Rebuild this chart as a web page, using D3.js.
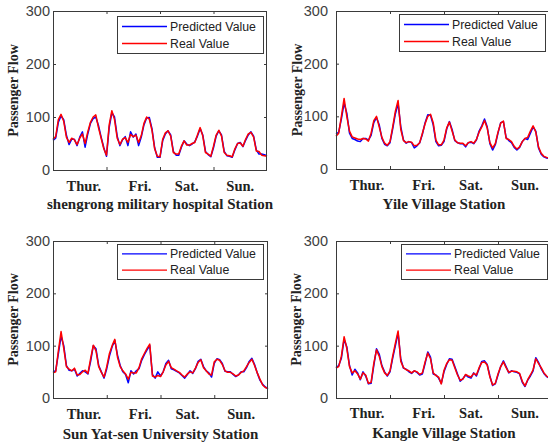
<!DOCTYPE html>
<html>
<head>
<meta charset="utf-8">
<script src="https://cdn.jsdelivr.net/npm/d3@7"></script>
<style>
  html, body { margin: 0; padding: 0; background: #fff; }
  svg { display: block; }
</style>
</head>
<body>
<svg id="chart" width="548" height="443"></svg>
<script>
// ---------------- DATA ----------------
const stations = ["shengrong military hospital Station", "Yile Village Station", "Sun Yat-sen University Station", "Kangle Village Station"];
const dayLabels = ["Thur.", "Fri.", "Sat.", "Sun."];
const dayLabelPos = [11.5, 32.5, 50, 70];
const dayBoundaries = [20, 40, 60];
const yTicks = [0, 100, 200, 300];
const seriesNames = ["Predicted Value", "Real Value"];

const real1 = [58,63,95,105,92,62,52,60,57,48,60,68,50,72,90,100,104,80,60,40,28,85,112,95,60,48,58,61,52,67,63,66,52,65,88,100,96,75,40,26,25,58,70,74,64,33,30,30,45,55,47,47,50,52,66,80,64,33,30,26,45,66,75,64,33,28,27,25,40,50,51,45,58,68,71,62,36,35,28,27,26];
const pred1 = [56,60,90,102,95,66,48,58,58,46,62,72,43,68,88,97,100,84,62,42,26,80,108,100,64,46,57,63,46,72,62,68,46,62,85,98,99,78,42,24,24,55,68,74,66,35,28,28,43,55,49,46,49,53,64,78,66,35,29,25,42,64,74,66,35,27,26,24,38,50,52,44,56,66,72,64,38,30,30,29,27];

const real2 = [62,68,100,134,100,72,61,59,57,56,58,57,53,68,92,100,80,60,49,45,52,80,110,130,75,54,50,52,51,44,45,50,68,86,100,104,88,55,46,46,55,78,89,72,55,50,49,49,44,50,52,49,56,70,80,92,78,50,40,48,70,87,91,58,56,52,43,38,42,52,58,60,72,82,70,42,30,24,22,20,19];
const pred2 = [66,70,95,125,106,68,58,56,53,52,58,58,55,64,88,98,84,58,47,44,50,76,105,124,80,55,49,52,50,40,44,50,66,88,103,102,84,52,44,45,52,76,90,75,54,50,48,48,42,50,51,48,55,72,82,95,80,48,36,46,68,88,90,60,54,50,41,36,41,52,58,56,68,80,72,40,28,23,21,20,19];

const real3 = [48,50,90,127,95,60,55,52,57,44,45,50,53,47,75,101,90,60,49,40,60,85,100,112,78,60,52,46,36,49,48,48,58,75,85,95,103,42,40,43,41,50,63,70,58,55,52,49,44,40,46,50,48,57,68,73,58,52,46,44,69,74,72,64,52,49,49,46,42,44,49,52,60,68,74,62,48,36,25,20,18];
const pred3 = [50,52,85,118,100,62,53,52,55,42,47,52,50,46,70,100,94,62,50,38,56,80,98,110,82,62,50,45,29,52,46,52,56,72,83,92,100,45,38,50,42,50,66,72,56,54,51,48,43,38,45,52,47,56,70,74,60,52,48,40,66,75,73,66,51,50,50,45,41,44,50,50,58,70,76,64,48,34,26,21,18];

const real4 = [57,60,80,117,95,60,48,52,46,36,48,44,28,30,66,92,80,60,48,43,52,80,105,128,70,58,54,52,48,52,50,45,48,69,86,75,48,43,40,27,53,66,73,72,58,44,34,36,45,42,40,47,44,58,68,69,63,40,25,28,46,60,69,58,49,51,51,50,47,32,23,35,44,54,75,66,58,48,42,38,36];
const pred4 = [58,62,76,112,98,62,44,55,48,35,50,42,27,28,62,94,84,62,50,42,50,76,100,124,74,57,55,50,47,52,49,44,46,66,88,78,46,44,38,28,50,64,75,74,60,46,32,37,44,40,38,48,42,56,70,71,64,42,24,27,44,60,71,60,48,52,50,49,46,30,22,34,42,52,77,68,56,47,41,38,36];

const predicted = [pred1, pred2, pred3, pred4];
const realVals = [real1, real2, real3, real4];

// ---------------- LAYOUT ----------------
const layout = [
  {left:53,  right:267, top:11,  bottom:170, gap:3, ylabX:18,  dayY:190.5, titleY:208.5, lg:{x:117, y:16,  w:146, h:37}},
  {left:336, right:552, top:11,  bottom:169, gap:8, ylabX:302, dayY:190,   titleY:208.5, lg:{x:399, y:14,  w:146, h:37}},
  {left:53,  right:268, top:241, bottom:398, gap:3, ylabX:18,  dayY:418.5, titleY:438.5, lg:{x:117, y:244, w:146, h:35}},
  {left:336, right:552, top:241, bottom:398, gap:8, ylabX:301, dayY:417.5, titleY:437.5, lg:{x:401, y:244, w:146, h:35}}
];
const colors = ["#0000ff", "#ff0000"];
const frameColor = "#3a3a3a";
const serif = "'Liberation Serif', 'Times New Roman', serif";
const sans = "'Liberation Sans', Arial, sans-serif";

const svg = d3.select("#chart");

layout.forEach((L, p) => {
  const x = d3.scaleLinear().domain([0, 80]).range([L.left, L.right]);
  const y = d3.scaleLinear().domain([0, 300]).range([L.bottom, L.top]);
  const g = svg.append("g");

  // data lines
  const line = d3.line().x((d, i) => x(i)).y(d => y(d));
  [predicted[p], realVals[p]].forEach((arr, s) => {
    g.append("path").datum(arr)
      .attr("fill", "none")
      .attr("stroke", colors[s])
      .attr("stroke-width", 1.5)
      .attr("stroke-linejoin", "round")
      .attr("d", line);
  });

  // left axis (ticks inward)
  const yAxis = d3.axisLeft(y).tickValues(yTicks).tickSizeInner(-3).tickSizeOuter(0).tickPadding(L.gap);
  const ga = g.append("g").attr("transform", `translate(${L.left},0)`).call(yAxis);
  ga.select(".domain").remove();
  ga.selectAll("line").attr("stroke", frameColor);
  ga.selectAll("text").attr("font-family", sans).attr("font-size", 14.5).attr("fill", "#404040");

  // right axis ticks
  const yAxisR = d3.axisRight(y).tickValues(yTicks).tickSizeInner(-3).tickSizeOuter(0).tickFormat("");
  const gr = g.append("g").attr("transform", `translate(${L.right},0)`).call(yAxisR);
  gr.select(".domain").remove();
  gr.selectAll("line").attr("stroke", frameColor);

  // bottom / top ticks at day boundaries
  const xAxis = d3.axisBottom(x).tickValues(dayBoundaries).tickSizeInner(-3).tickSizeOuter(0).tickFormat("");
  const gb = g.append("g").attr("transform", `translate(0,${L.bottom})`).call(xAxis);
  gb.select(".domain").remove();
  gb.selectAll("line").attr("stroke", frameColor);
  const xAxisT = d3.axisTop(x).tickValues(dayBoundaries).tickSizeInner(-3).tickSizeOuter(0).tickFormat("");
  const gt = g.append("g").attr("transform", `translate(0,${L.top})`).call(xAxisT);
  gt.select(".domain").remove();
  gt.selectAll("line").attr("stroke", frameColor);

  // frame
  g.append("rect")
    .attr("x", L.left + 0.5).attr("y", L.top + 0.5)
    .attr("width", L.right - L.left - 1).attr("height", L.bottom - L.top)
    .attr("fill", "none").attr("stroke", frameColor).attr("stroke-width", 1);

  // day labels
  g.selectAll(".day").data(dayLabels).enter().append("text")
    .attr("x", (d, i) => x(dayLabelPos[i]))
    .attr("y", L.dayY)
    .attr("text-anchor", "middle")
    .attr("font-family", serif).attr("font-weight", "bold").attr("font-size", 14.5)
    .attr("fill", "#222")
    .text(d => d);

  // station title
  g.append("text")
    .attr("x", (L.left + L.right) / 2).attr("y", L.titleY)
    .attr("text-anchor", "middle")
    .attr("font-family", serif).attr("font-weight", "bold").attr("font-size", 15)
    .attr("fill", "#222")
    .text(stations[p]);

  // y label
  g.append("text")
    .attr("transform", `translate(${L.ylabX},${(L.top + L.bottom) / 2}) rotate(-90)`)
    .attr("text-anchor", "middle")
    .attr("font-family", serif).attr("font-weight", "bold").attr("font-size", 14)
    .attr("fill", "#222")
    .text("Passenger Flow");

  // legend
  const lg = g.append("g").attr("transform", `translate(${L.lg.x},${L.lg.y})`);
  lg.append("rect").attr("x", 0.5).attr("y", 0.5).attr("width", L.lg.w).attr("height", L.lg.h)
    .attr("fill", "#fff").attr("stroke", frameColor).attr("stroke-width", 1);
  seriesNames.forEach((name, s) => {
    const ry = (s === 0 ? 10 : 27) * (L.lg.h / 37);
    lg.append("line").attr("x1", 5).attr("x2", 50).attr("y1", ry + 0.5).attr("y2", ry + 0.5)
      .attr("stroke", colors[s]).attr("stroke-width", 1.3);
    lg.append("text").attr("x", 53).attr("y", ry + 4.5)
      .attr("font-family", sans).attr("font-size", 12.3).attr("fill", "#222")
      .text(name);
  });
});
</script>
</body>
</html>
